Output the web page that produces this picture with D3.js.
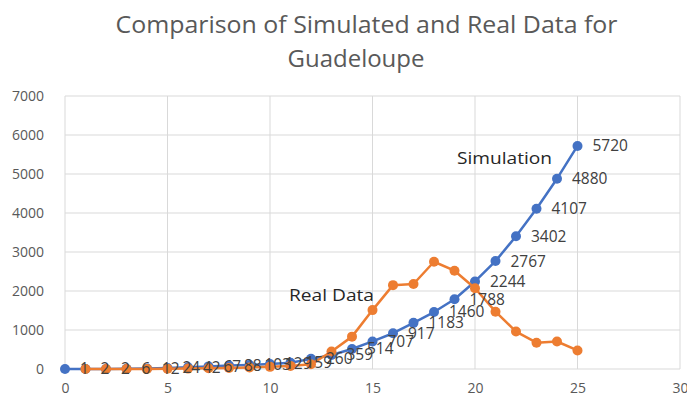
<!DOCTYPE html>
<html>
<head>
<meta charset="utf-8">
<script src="https://cdn.jsdelivr.net/npm/d3@7"></script>
<style>
  html, body { margin: 0; padding: 0; background: #fff; }
  svg { display: block; }
</style>
</head>
<body>
<svg id="chart" width="687" height="411"></svg>
<script>
const titleLines = ["Comparison of Simulated and Real Data for", "Guadeloupe"];
const simDays = [0,1,2,3,4,5,6,7,8,9,10,11,12,13,14,15,16,17,18,19,20,21,22,23,24,25];
const simValues = [1,2,2,6,12,24,42,67,88,103,129,159,260,359,514,707,917,1183,1460,1788,2244,2767,3402,4107,4880,5720];
const realDays = [1,2,3,4,5,6,7,8,9,10,11,12,13,14,15,16,17,18,19,20,21,22,23,24,25];
const realValues = [1,2,2,3,5,10,18,28,40,55,80,120,450,830,1510,2150,2180,2750,2520,2070,1470,960,675,705,475];
const xTicks = [0,5,10,15,20,25,30];
const yTicks = [0,1000,2000,3000,4000,5000,6000,7000];
const seriesNames = ["Simulation", "Real Data"];

const svg = d3.select("#chart");
const x = d3.scaleLinear().domain([0, 30]).range([65, 680]);
const y = d3.scaleLinear().domain([0, 7000]).range([369, 96]);
const font = "'Open Sans', 'DejaVu Sans', sans-serif";

// title
svg.append("text").attr("x", 366.5).attr("y", 33).attr("text-anchor", "middle")
  .attr("font-family", font).attr("font-size", 23).attr("fill", "#595959")
  .attr("textLength", 502).attr("lengthAdjust", "spacingAndGlyphs").text(titleLines[0]);
svg.append("text").attr("x", 356).attr("y", 67).attr("text-anchor", "middle")
  .attr("font-family", font).attr("font-size", 23).attr("fill", "#595959")
  .attr("textLength", 137).attr("lengthAdjust", "spacingAndGlyphs").text(titleLines[1]);

// gridlines
svg.append("g").selectAll("line").data(yTicks).join("line")
  .attr("x1", x(0)).attr("x2", x(30)).attr("y1", d => y(d)).attr("y2", d => y(d))
  .attr("stroke", "#d9d9d9").attr("stroke-width", 1);
svg.append("g").selectAll("line").data(xTicks).join("line")
  .attr("x1", d => x(d)).attr("x2", d => x(d)).attr("y1", y(0)).attr("y2", y(7000))
  .attr("stroke", "#d9d9d9").attr("stroke-width", 1);

// axes labels
const yAxis = d3.axisLeft(y).tickValues(yTicks).tickFormat(d3.format("d")).tickSize(0).tickPadding(0);
const gy = svg.append("g").attr("transform", "translate(44,0)").call(yAxis);
gy.select(".domain").remove();
gy.selectAll("text").attr("font-family", font).attr("font-size", 14).attr("fill", "#595959").attr("dy", "0.35em");

const xAxis = d3.axisBottom(x).tickValues(xTicks).tickFormat(d3.format("d")).tickSize(0).tickPadding(0);
const gx = svg.append("g").attr("transform", "translate(0,383)").call(xAxis);
gx.select(".domain").remove();
gx.selectAll("text").attr("font-family", font).attr("font-size", 14).attr("fill", "#595959").attr("dy", "0.71em");

// lines
const line = d3.line().x(d => x(d[0])).y(d => y(d[1]));
const simData = simDays.map((d, i) => [d, simValues[i]]);
const realData = realDays.map((d, i) => [d, realValues[i]]);

function drawSeries(data, color) {
  svg.append("path").datum(data).attr("d", line).attr("fill", "none")
    .attr("stroke", color).attr("stroke-width", 2.5).attr("stroke-linejoin", "round");
  svg.append("g").selectAll("circle").data(data).join("circle")
    .attr("cx", d => x(d[0])).attr("cy", d => y(d[1])).attr("r", 5).attr("fill", color);
}
drawSeries(simData, "#4472C4");
drawSeries(realData, "#ED7D31");

// data labels for simulation (drawn on top)
svg.append("g").selectAll("text").data(simData).join("text")
  .attr("x", d => x(d[0]) + 15).attr("y", d => y(d[1])).attr("dy", "0.35em")
  .attr("font-family", font).attr("font-size", 15.5).attr("fill", "#404040")
  .text(d => d[1]);

// series annotations
svg.append("text").attr("x", 457).attr("y", 158).attr("dy", "0.35em")
  .attr("font-family", font).attr("font-size", 16.5).attr("fill", "#262626")
  .attr("textLength", 95).attr("lengthAdjust", "spacingAndGlyphs").text(seriesNames[0]);
svg.append("text").attr("x", 289).attr("y", 295).attr("dy", "0.35em")
  .attr("font-family", font).attr("font-size", 16.5).attr("fill", "#262626")
  .attr("textLength", 85).attr("lengthAdjust", "spacingAndGlyphs").text(seriesNames[1]);
</script>
</body>
</html>
